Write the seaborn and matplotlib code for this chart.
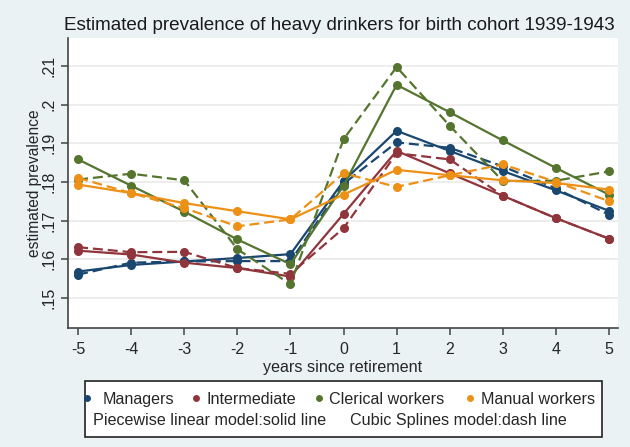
import numpy as np
import pandas as pd
import seaborn as sns
import matplotlib
matplotlib.use("Agg")
import matplotlib.pyplot as plt
from matplotlib.patches import Rectangle
from matplotlib.lines import Line2D

years = [-5, -4, -3, -2, -1, 0, 1, 2, 3, 4, 5]
groups = ["Managers", "Intermediate", "Clerical workers", "Manual workers"]

managers_linear = [.1568, .1585, .1594, .1603, .1613, .1802, .1932, .1880, .1828, .1778, .1725]
managers_spline = [.1560, .1591, .1594, .1595, .1595, .1795, .1902, .1888, .1840, .1783, .1715]
intermediate_linear = [.1622, .1612, .1591, .1577, .1555, .1717, .1880, .1822, .1764, .1706, .1653]
intermediate_spline = [.1631, .1618, .1619, .1577, .1562, .1680, .1874, .1858, .1764, .1706, .1653]
clerical_linear = [.1858, .1790, .1723, .1651, .1587, .1790, .2051, .1980, .1907, .1836, .1767]
clerical_spline = [.1806, .1821, .1804, .1626, .1535, .1910, .2097, .1945, .1802, .1803, .1827]
manual_linear = [.1793, .1771, .1745, .1724, .1703, .1767, .1831, .1817, .1804, .1797, .1780]
manual_spline = [.1810, .1771, .1732, .1685, .1703, .1822, .1787, .1817, .1845, .1800, .1750]

colors = {"Managers": "#1a476f", "Intermediate": "#90353b",
          "Clerical workers": "#55752f", "Manual workers": "#ec9016"}

series = {
    ("Managers", "linear"): managers_linear,
    ("Managers", "spline"): managers_spline,
    ("Intermediate", "linear"): intermediate_linear,
    ("Intermediate", "spline"): intermediate_spline,
    ("Clerical workers", "linear"): clerical_linear,
    ("Clerical workers", "spline"): clerical_spline,
    ("Manual workers", "linear"): manual_linear,
    ("Manual workers", "spline"): manual_spline,
}
rows = []
for (g, m), vals in series.items():
    for x, v in zip(years, vals):
        rows.append({"year": x, "prev": v, "group": g, "model": m})
df = pd.DataFrame(rows)

sns.set_theme(style="white")
plt.rcParams["font.family"] = ["Liberation Sans", "DejaVu Sans"]

BG = "#eaf2f3"
fig = plt.figure(figsize=(6.3, 4.47), dpi=100, facecolor=BG)
ax = fig.add_axes([68/630, 1-328/447, 550/630, 290/447])
ax.set_facecolor("white")

sns.lineplot(data=df, x="year", y="prev", hue="group", style="model",
             hue_order=groups, palette=colors,
             style_order=["linear", "spline"],
             dashes={"linear": "", "spline": (4.5, 2.2)},
             markers={"linear": "o", "spline": "o"},
             markersize=6.5, markeredgewidth=0, linewidth=1.6,
             legend=False, ax=ax, estimator=None, sort=False)

ax.set_xlim(-5.19, 5.17)
ax.set_ylim(0.1422, 0.2172)
ax.set_xticks(years)
ax.set_xticklabels([str(y) for y in years], fontsize=11.5)
yt = [.15, .16, .17, .18, .19, .2, .21]
ax.set_yticks(yt)
ax.set_yticklabels([".15", ".16", ".17", ".18", ".19", ".2", ".21"], fontsize=11.5,
                   rotation=90, va="center")
ax.yaxis.grid(True, color="#eaeaea", linewidth=1.2)
ax.xaxis.grid(False)
for s in ["top", "right"]:
    ax.spines[s].set_visible(False)
for s in ["left", "bottom"]:
    ax.spines[s].set_color("#444444")
    ax.spines[s].set_linewidth(1.2)
ax.tick_params(axis="both", direction="out", length=5, width=1.1, color="#444444",
               left=True, bottom=True)
ax.tick_params(axis="x", pad=5)
ax.tick_params(axis="y", pad=3)
ax.set_xlabel("years since retirement", fontsize=11.6, labelpad=2)
ax.set_ylabel("estimated prevalence", fontsize=11.2, labelpad=0)

fig.text(64/630, 1-25/447, "Estimated prevalence of heavy drinkers for birth cohort 1939-1943",
         fontsize=13.6, ha="left", va="center", color="#1a1a1a")

# legend box
fig.add_artist(Rectangle((85/630, 1-437/447), (602-85)/630, (437-381)/447,
                         transform=fig.transFigure, facecolor="white",
                         edgecolor="#222222", linewidth=1.2))
y1 = 1 - 398/447
y2 = 1 - 419/447
for g, xd, xt in [("Managers", 87, 103), ("Intermediate", 196, 207),
                  ("Clerical workers", 319, 329), ("Manual workers", 470, 481)]:
    fig.add_artist(Line2D([xd/630], [y1], marker="o", markersize=5, color=colors[g],
                          markeredgewidth=0, transform=fig.transFigure))
    fig.text(xt/630, y1, g, fontsize=11.6, ha="left", va="center_baseline")
fig.text(93/630, y2, "Piecewise linear model:solid line", fontsize=11.6, ha="left",
         va="center_baseline")
fig.text(350/630, y2, "Cubic Splines model:dash line", fontsize=11.6, ha="left",
         va="center_baseline")

fig.savefig("out.png", dpi=100, facecolor=BG)
